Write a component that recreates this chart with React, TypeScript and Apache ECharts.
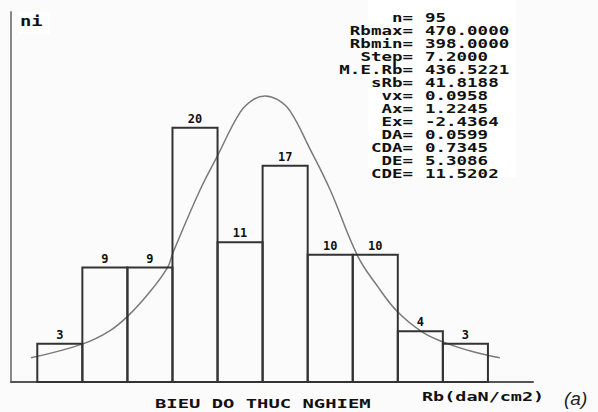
import React, { useEffect, useRef } from "react";
import * as echarts from "echarts";

const binStarts = [398, 405.2, 412.4, 419.6, 426.8, 434, 441.2, 448.4, 455.6, 462.8];
const binStep = 7.2;
const frequencies = [3, 9, 9, 20, 11, 17, 10, 10, 4, 3];

const curveX = [397.0, 405.3, 409.5, 412.5, 416.0, 418.8, 419.7, 424.0, 426.7, 430.4, 432.5, 434.4, 436.4, 438.4, 441.6, 444.8, 449.2, 452.4, 455.6, 459.6, 463.1, 467.5, 471.9];
const curveY = [1.9, 3.0, 4.0, 5.2, 7.1, 9.0, 10.2, 15.1, 17.7, 21.2, 22.2, 22.5, 22.2, 21.3, 18.3, 15.1, 9.9, 7.5, 5.5, 3.9, 3.1, 2.4, 1.9];

const statLabels = ["n=", "Rbmax=", "Rbmin=", "Step=", "M.E.Rb=", "sRb=", "vx=", "Ax=", "Ex=", "DA=", "CDA=", "DE=", "CDE="];
const statValues = ["95", "470.0000", "398.0000", "7.2000", "436.5221", "41.8188", "0.0958", "1.2245", "-2.4364", "0.0599", "0.7345", "5.3086", "11.5202"];

const yAxisTitle = "ni";
const xAxisTitle = "Rb(daN/cm2)";
const chartTitle = "BIEU DO THUC NGHIEM";
const panelTag = "(a)";

const MONO = "'DejaVu Sans Mono', 'Liberation Mono', monospace";

export default function App() {
  const ref = useRef<HTMLDivElement>(null);
  useEffect(() => {
    if (!ref.current) return;
    const chart = echarts.init(ref.current, undefined, { renderer: "svg" });
    const barData = binStarts.map((s, i) => [s, s + binStep, frequencies[i]]);
    const curveData = curveX.map((x, i) => [x, curveY[i]]);
    chart.setOption({
      animation: false,
      backgroundColor: "#fbfbfb",
      grid: { left: 11, right: 65, top: 12, bottom: 30 },
      xAxis: {
        type: "value",
        min: 393.8,
        max: 477.2,
        axisLine: { show: true, lineStyle: { color: "#555", width: 2 } },
        axisTick: { show: false },
        axisLabel: { show: false },
        splitLine: { show: false },
      },
      yAxis: {
        type: "value",
        min: 0,
        max: 29.1,
        axisLine: { show: true, lineStyle: { color: "#888", width: 2 } },
        axisTick: { show: false },
        axisLabel: { show: false },
        splitLine: { show: false },
      },
      graphic: [
        { type: "rect", shape: { x: 368, y: 0, width: 148, height: 177 }, style: { fill: "#ffffff" }, z: 1 },
        { type: "rect", shape: { x: 18, y: 12, width: 32, height: 22 }, style: { fill: "#ffffff" }, z: 1 },
        {
          type: "text", x: 20, y: 21, scaleX: 1.35, z: 10,
          style: { text: yAxisTitle, font: `bold 14px ${MONO}`, fill: "#111", textVerticalAlign: "middle" },
        },
        {
          type: "text", x: 413, y: 11, scaleX: 1.4, z: 10,
          style: { text: statLabels.join("\n"), font: `bold 12.5px ${MONO}`, lineHeight: 13, fill: "#111", textAlign: "right", textVerticalAlign: "top" },
        },
        {
          type: "text", x: 425, y: 11, scaleX: 1.4, z: 10,
          style: { text: statValues.join("\n"), font: `bold 12.5px ${MONO}`, lineHeight: 13, fill: "#111", textAlign: "left", textVerticalAlign: "top" },
        },
        {
          type: "text", x: 155, y: 404, scaleX: 1.45, z: 10,
          style: { text: chartTitle, font: `bold 13px ${MONO}`, fill: "#111", textVerticalAlign: "middle" },
        },
        {
          type: "text", x: 422, y: 397, scaleX: 1.42, z: 10,
          style: { text: xAxisTitle, font: `bold 13px ${MONO}`, fill: "#111", textVerticalAlign: "middle" },
        },
        {
          type: "text", x: 564, y: 398, z: 10,
          style: { text: panelTag, font: "italic 19px 'Liberation Sans', Arial, sans-serif", fill: "#222", textVerticalAlign: "middle" },
        },
      ],
      series: [
        {
          type: "line",
          data: curveData,
          smooth: 0.4,
          showSymbol: false,
          lineStyle: { color: "#7a7a7a", width: 1.5 },
          z: 2,
        },
        {
          type: "custom",
          data: barData,
          z: 3,
          renderItem: (params: any, api: any) => {
            const s = api.value(0);
            const e = api.value(1);
            const v = api.value(2);
            const p0 = api.coord([s, v]);
            const p1 = api.coord([e, 0]);
            return {
              type: "group",
              children: [
                {
                  type: "rect",
                  shape: { x: p0[0], y: p0[1], width: p1[0] - p0[0], height: p1[1] - p0[1] },
                  style: { fill: "none", stroke: "#333", lineWidth: 2 },
                },
                {
                  type: "text",
                  style: {
                    text: String(v),
                    x: (p0[0] + p1[0]) / 2,
                    y: p0[1] - 3,
                    textAlign: "center",
                    textVerticalAlign: "bottom",
                    font: `bold 12px ${MONO}`,
                    fill: "#111",
                  },
                },
              ],
            };
          },
        },
      ],
    });
    return () => chart.dispose();
  }, []);
  return <div ref={ref} style={{ position: "fixed", left: 0, top: 0, width: 598, height: 412 }} />;
}
